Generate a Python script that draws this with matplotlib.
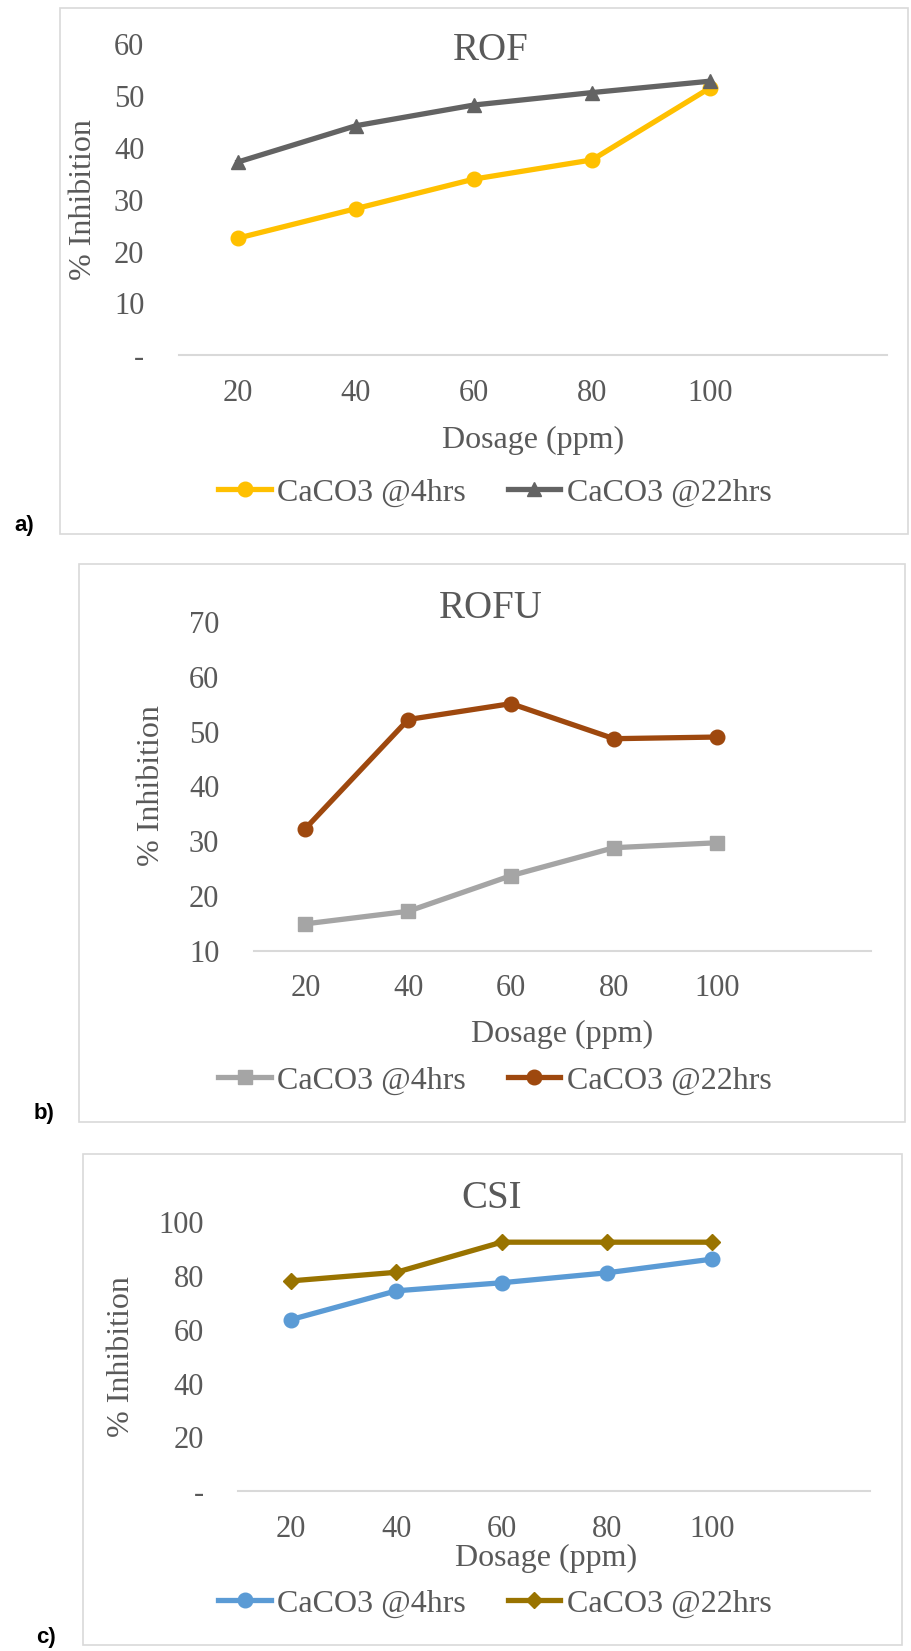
import matplotlib
matplotlib.use("Agg")
import matplotlib.pyplot as plt
from matplotlib.patches import Rectangle
from matplotlib.lines import Line2D

W, H = 912, 1651

DOSAGE = ["20", "40", "60", "80", "100"]
SERIES_LABELS = ["CaCO3 @4hrs", "CaCO3 @22hrs"]

ROF_4H = [22.6, 28.3, 34.0, 37.7, 51.6]
ROF_22H = [37.3, 44.3, 48.3, 50.7, 52.9]

ROFU_4H = [14.9, 17.2, 23.7, 28.8, 29.7]
ROFU_22H = [32.3, 52.2, 55.1, 48.7, 49.0]

CSI_4H = [63.8, 74.5, 77.5, 81.2, 86.3]
CSI_22H = [78.2, 81.4, 92.6, 92.6, 92.6]

TEXT = "#595959"
SERIF = "Liberation Serif"

# layout in pixels of the 912x1651 canvas
PANELS = [
    dict(name="ROF", tag="a)", s4=ROF_4H, s22=ROF_22H,
         c4="#FFC000", c22="#636363", m4="o", m22="^",
         ylim=(0, 60), yticks=[0, 10, 20, 30, 40, 50, 60],
         ax=(179, 887, 44.4, 355.2), frame=(60, 8, 908, 534),
         title=(491, 50), xlab=(533, 440), ylab=(84, 200), leg=493,
         tagpos=(24, 526)),
    dict(name="ROFU", tag="b)", s4=ROFU_4H, s22=ROFU_22H,
         c4="#A5A5A5", c22="#9E480E", m4="s", m22="o",
         ylim=(10, 70), yticks=[10, 20, 30, 40, 50, 60, 70],
         ax=(254, 871, 622, 950.7), frame=(78.5, 564, 905, 1122),
         title=(491, 608), xlab=(562, 1034.6), ylab=(152, 786), leg=1081,
         tagpos=(44, 1114)),
    dict(name="CSI", tag="c)", s4=CSI_4H, s22=CSI_22H,
         c4="#5B9BD5", c22="#997300", m4="o", m22="D",
         ylim=(0, 100), yticks=[0, 20, 40, 60, 80, 100],
         ax=(238.5, 870, 1222.3, 1491), frame=(83, 1154, 902, 1645),
         title=(492, 1198), xlab=(546, 1558.5), ylab=(122, 1357), leg=1604,
         tagpos=(46, 1637)),
]


def fx(x):
    return x / W


def fy(y):
    return 1 - y / H


def ytick_fmt(v):
    return "-" if v == 0 else str(v)


def msize(m):
    return 8.5 if m == "D" else 10.5


fig = plt.figure(figsize=(W / 100, H / 100), dpi=100)

for p in PANELS:
    x0, y0, x1, y1 = p["frame"]
    fig.patches.append(Rectangle((fx(x0), fy(y1)), fx(x1 - x0), (y1 - y0) / H,
                                 transform=fig.transFigure, fill=False,
                                 edgecolor="#D9D9D9", linewidth=1.2))

    l, r, t, b = p["ax"]
    ax = fig.add_axes([fx(l), fy(b), fx(r - l), (b - t) / H])
    xs = list(range(len(DOSAGE)))
    ax.plot(xs, p["s4"], color=p["c4"], marker=p["m4"],
            markersize=msize(p["m4"]), linewidth=3.8, clip_on=False)
    ax.plot(xs, p["s22"], color=p["c22"], marker=p["m22"],
            markersize=msize(p["m22"]), linewidth=3.8, clip_on=False)
    ax.set_xlim(-0.5, 5.5)
    ax.set_ylim(*p["ylim"])
    ax.set_xticks(xs)
    ax.set_xticklabels(DOSAGE)
    ax.set_yticks(p["yticks"])
    ax.set_yticklabels([ytick_fmt(v) for v in p["yticks"]])
    for s in ("top", "right", "left"):
        ax.spines[s].set_visible(False)
    ax.spines["bottom"].set_color("#D9D9D9")
    ax.spines["bottom"].set_linewidth(1.5)
    ax.tick_params(length=0, labelsize=22, labelcolor=TEXT)
    ax.tick_params(axis="y", pad=25)
    ax.tick_params(axis="x", pad=17)
    for lab in ax.get_xticklabels() + ax.get_yticklabels():
        lab.set_family(SERIF)
    ax.patch.set_alpha(0)

    fig.text(fx(p["title"][0]), fy(p["title"][1]), p["name"], ha="center",
             va="center", fontsize=28, color=TEXT, family=SERIF)
    fig.text(fx(p["xlab"][0]), fy(p["xlab"][1]), "Dosage (ppm)", ha="center",
             va="center", fontsize=23, color=TEXT, family=SERIF)
    fig.text(fx(p["ylab"][0]), fy(p["ylab"][1]), "% Inhibition", ha="center",
             va="center", rotation=90, fontsize=23, color=TEXT, family=SERIF)
    fig.text(fx(p["tagpos"][0]), fy(p["tagpos"][1]), p["tag"], ha="center",
             va="center", fontsize=16, fontweight="bold", color="black",
             family="Liberation Sans")

    handles = [
        Line2D([], [], color=p["c4"], marker=p["m4"], linewidth=3.8,
               markersize=msize(p["m4"])),
        Line2D([], [], color=p["c22"], marker=p["m22"], linewidth=3.8,
               markersize=msize(p["m22"])),
    ]
    fig.legend(handles, SERIES_LABELS, loc="center", ncol=2,
               bbox_to_anchor=(fx(495), fy(p["leg"])), frameon=False,
               prop={"family": SERIF, "size": 23}, handlelength=1.65,
               handletextpad=0.2, columnspacing=1.3, labelcolor=TEXT)

fig.savefig("out.png", dpi=100)
